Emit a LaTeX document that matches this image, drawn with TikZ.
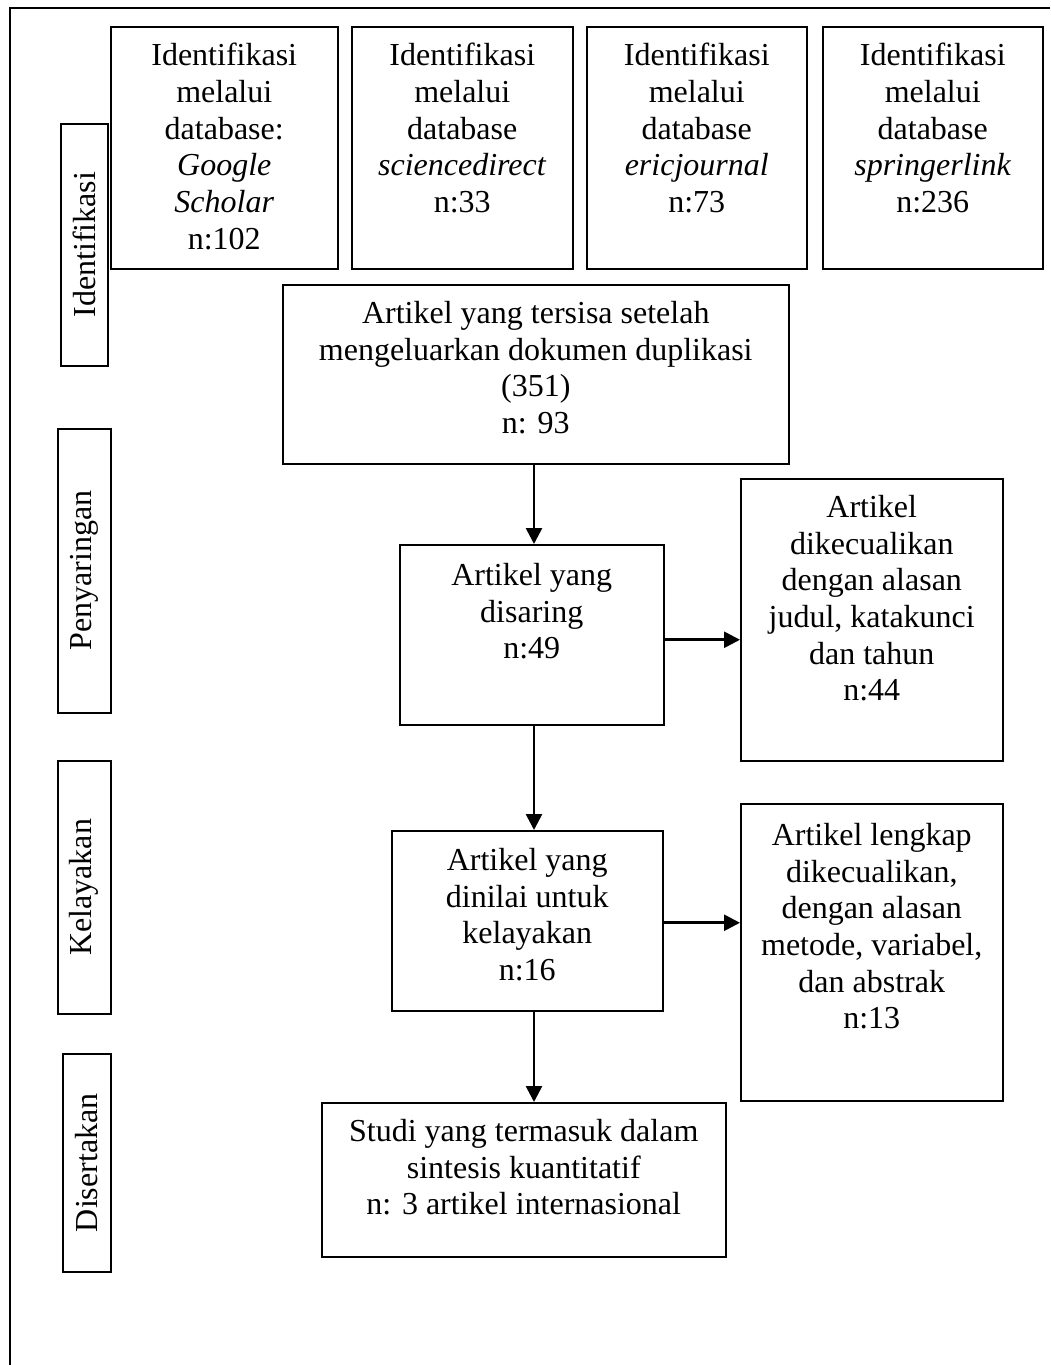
\documentclass[tikz,border=0pt]{standalone}
\usepackage{fontspec}
\setmainfont{Liberation Serif}
\usetikzlibrary{arrows.meta,calc}
\begin{document}
\begin{tikzpicture}[x=1pt,y=-1pt,
  box/.style={draw=black,line width=1.5pt,inner sep=0pt,anchor=north west},
  txt/.style={inner sep=0pt,anchor=north,align=center,font=\fontsize{32}{36.7}\selectfont},
  side/.style={inner sep=0pt,rotate=90,font=\fontsize{32}{36.7}\selectfont},
  arr/.style={line width=2.6pt,-{Triangle[length=16pt,width=16pt]}},
  frame/.style={line width=2.2pt}]
\useasboundingbox (0,0) rectangle (1050,1365);
\draw[frame] (1050,8) -- (10,8) -- (10,1365);
% side labels
\node[box,minimum width=47pt,minimum height=242pt] (l1) at (60,123) {};
\node[side] (l1t) at (l1.center) {Identifikasi};
\node[box,minimum width=53pt,minimum height=284pt] (l2) at (57,428) {};
\node[side] (l2t) at (l2.center) {Penyaringan};
\node[box,minimum width=53pt,minimum height=253pt] (l3) at (57,760) {};
\node[side] (l3t) at (l3.center) {Kelayakan};
\node[box,minimum width=48pt,minimum height=218pt] (l4) at (62,1053) {};
\node[side] (l4t) at (l4.center) {Disertakan};
% top boxes
\node[box,minimum width=227pt,minimum height=242pt] (b1) at (110,26) {};
\node[txt] (b1t) at ([yshift=-17pt]b1.north) {Identifikasi\\melalui\\database:\\\textit{Google}\\\textit{Scholar}\\n:102};
\node[box,minimum width=221pt,minimum height=242pt] (b2) at (351,26) {};
\node[txt] (b2t) at ([yshift=-17pt]b2.north) {Identifikasi\\melalui\\database\\\textit{sciencedirect}\\n:33};
\node[box,minimum width=220pt,minimum height=242pt] (b3) at (586,26) {};
\node[txt] (b3t) at ([yshift=-17pt]b3.north) {Identifikasi\\melalui\\database\\\textit{ericjournal}\\n:73};
\node[box,minimum width=220pt,minimum height=242pt] (b4) at (822,26) {};
\node[txt] (b4t) at ([yshift=-17pt]b4.north) {Identifikasi\\melalui\\database\\\textit{springerlink}\\n:236};
% main flow
\node[box,minimum width=506pt,minimum height=179pt] (dedup) at (282,284) {};
\node[txt] (dedupt) at ([yshift=-17pt]dedup.north) {Artikel yang tersisa setelah\\mengeluarkan dokumen duplikasi\\(351)\\n: 93};
\node[box,minimum width=264pt,minimum height=180pt] (scr) at (399,544) {};
\node[txt] (scrt) at ([yshift=-19pt]scr.north) {Artikel yang\\disaring\\n:49};
\node[box,minimum width=262pt,minimum height=282pt] (ex1) at (740,478) {};
\node[txt] (ex1t) at ([yshift=-17pt]ex1.north) {Artikel\\dikecualikan\\dengan alasan\\judul, katakunci\\dan tahun\\n:44};
\node[box,minimum width=271pt,minimum height=180pt] (elig) at (391,830) {};
\node[txt] (eligt) at ([yshift=-18pt]elig.north) {Artikel yang\\dinilai untuk\\kelayakan\\n:16};
\node[box,minimum width=262pt,minimum height=297pt] (ex2) at (740,803) {};
\node[txt] (ex2t) at ([yshift=-20pt]ex2.north) {Artikel lengkap\\dikecualikan,\\dengan alasan\\metode, variabel,\\dan abstrak\\n:13};
\node[box,minimum width=404pt,minimum height=154pt] (fin) at (321,1102) {};
\node[txt] (fint) at ([yshift=-17pt]fin.north) {Studi yang termasuk dalam\\sintesis kuantitatif\\n: 3 artikel internasional};
% connectors
\coordinate (ax) at (534,0);
\draw[arr] (ax |- dedup.south) -- (ax |- scr.north);
\draw[arr] (ax |- scr.south) -- (ax |- elig.north);
\draw[arr] ([yshift=-5pt]scr.east) -- ([yshift=-5pt]scr.east -| ex1.west);
\draw[arr] ([yshift=-2pt]elig.east) -- ([yshift=-2pt]elig.east -| ex2.west);
\draw[arr] (ax |- elig.south) -- (ax |- fin.north);
\end{tikzpicture}
\end{document}
